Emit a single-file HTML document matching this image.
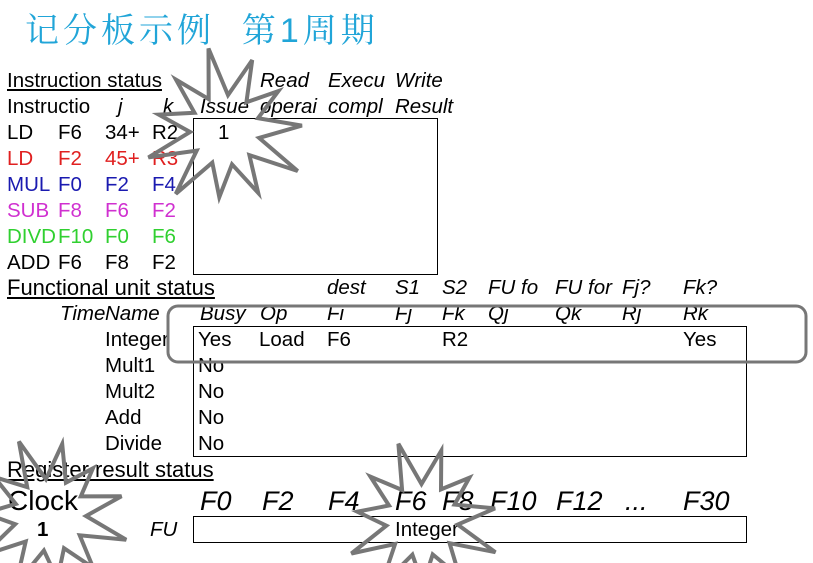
<!DOCTYPE html>
<html><head><meta charset="utf-8"><style>
body{margin:0;width:813px;height:563px;background:#fff;position:relative;overflow:hidden;font-family:"Liberation Sans",Arial,sans-serif;}
.t{position:absolute;font-size:20.5px;line-height:20px;white-space:nowrap;color:#000;}
.i{font-style:italic}
.b{position:absolute;border:1.5px solid #000;box-sizing:border-box}
.big{font-size:27px;line-height:27px}
.u{text-decoration:underline}
</style></head><body>
<div style="position:absolute;left:25px;top:3px;font-size:34px;color:#21a5d8;font-family:'Liberation Sans','Noto Serif CJK SC',serif;letter-spacing:4px;white-space:nowrap">记分板示例&nbsp;&nbsp;第1周期</div>

<div class="b" style="left:193px;top:118px;width:245px;height:157px"></div>
<div class="b" style="left:193px;top:326px;width:554px;height:131px"></div>
<div class="b" style="left:193px;top:516px;width:554px;height:27px"></div>

<div class="t u" style="left:7px;top:71px">Instruction status</div>
<div class="t i" style="left:260px;top:71px">Read</div>
<div class="t i" style="left:328px;top:71px">Execu</div>
<div class="t i" style="left:395px;top:71px">Write</div>

<div class="t" style="left:7px;top:97px">Instructio</div>
<div class="t i" style="left:118px;top:97px">j</div>
<div class="t i" style="left:163px;top:97px">k</div>
<div class="t i" style="left:200px;top:97px">Issue</div>
<div class="t i" style="left:260px;top:97px">operai</div>
<div class="t i" style="left:328px;top:97px">compl</div>
<div class="t i" style="left:395px;top:97px">Result</div>

<div class="t" style="left:7px;top:123px">LD</div><div class="t" style="left:58px;top:123px">F6</div><div class="t" style="left:105px;top:123px">34+</div><div class="t" style="left:152px;top:123px">R2</div><div class="t" style="left:218px;top:123px">1</div>
<div class="t" style="left:7px;top:149px;color:#e02020">LD</div><div class="t" style="left:58px;top:149px;color:#e02020">F2</div><div class="t" style="left:105px;top:149px;color:#e02020">45+</div><div class="t" style="left:152px;top:149px;color:#e02020">R3</div>
<div class="t" style="left:7px;top:175px;color:#1a1ab0">MUL</div><div class="t" style="left:58px;top:175px;color:#1a1ab0">F0</div><div class="t" style="left:105px;top:175px;color:#1a1ab0">F2</div><div class="t" style="left:152px;top:175px;color:#1a1ab0">F4</div>
<div class="t" style="left:7px;top:201px;color:#d030d0">SUB</div><div class="t" style="left:58px;top:201px;color:#d030d0;background:#fff">F8</div><div class="t" style="left:105px;top:201px;color:#d030d0">F6</div><div class="t" style="left:152px;top:201px;color:#d030d0">F2</div>
<div class="t" style="left:7px;top:227px;color:#30d030">DIVD</div><div class="t" style="left:58px;top:227px;color:#30d030;background:#fff">F10</div><div class="t" style="left:105px;top:227px;color:#30d030">F0</div><div class="t" style="left:152px;top:227px;color:#30d030">F6</div>
<div class="t" style="left:7px;top:253px">ADD</div><div class="t" style="left:58px;top:253px;background:#fff">F6</div><div class="t" style="left:105px;top:253px">F8</div><div class="t" style="left:152px;top:253px">F2</div>

<div class="t u" style="left:7px;top:278px;font-size:22px">Functional unit status</div>
<div class="t i" style="left:327px;top:278px">dest</div>
<div class="t i" style="left:395px;top:278px">S1</div>
<div class="t i" style="left:442px;top:278px">S2</div>
<div class="t i" style="left:488px;top:278px">FU fo</div>
<div class="t i" style="left:555px;top:278px">FU for</div>
<div class="t i" style="left:622px;top:278px">Fj?</div>
<div class="t i" style="left:683px;top:278px">Fk?</div>

<div class="t i" style="left:60px;top:304px">Time</div>
<div class="t i" style="left:105px;top:304px;background:#fff">Name</div>
<div class="t i" style="left:200px;top:304px">Busy</div>
<div class="t i" style="left:260px;top:304px">Op</div>
<div class="t i" style="left:327px;top:304px">Fi</div>
<div class="t i" style="left:395px;top:304px">Fj</div>
<div class="t i" style="left:442px;top:304px">Fk</div>
<div class="t i" style="left:488px;top:304px">Qj</div>
<div class="t i" style="left:555px;top:304px">Qk</div>
<div class="t i" style="left:622px;top:304px">Rj</div>
<div class="t i" style="left:683px;top:304px">Rk</div>

<div class="t" style="left:105px;top:330px">Integer</div><div class="t" style="left:198px;top:330px">Yes</div><div class="t" style="left:259px;top:330px">Load</div><div class="t" style="left:327px;top:330px">F6</div><div class="t" style="left:442px;top:330px">R2</div><div class="t" style="left:683px;top:330px">Yes</div>
<div class="t" style="left:105px;top:356px">Mult1</div><div class="t" style="left:198px;top:356px">No</div>
<div class="t" style="left:105px;top:382px">Mult2</div><div class="t" style="left:198px;top:382px">No</div>
<div class="t" style="left:105px;top:408px">Add</div><div class="t" style="left:198px;top:408px">No</div>
<div class="t" style="left:105px;top:434px">Divide</div><div class="t" style="left:198px;top:434px">No</div>

<div class="t u" style="left:7px;top:460px;font-size:22px">Register result status</div>
<div class="t big" style="left:8px;top:487px;font-size:28px">Clock</div>
<div class="t big i" style="left:200px;top:488px">F0</div>
<div class="t big i" style="left:262px;top:488px">F2</div>
<div class="t big i" style="left:328px;top:488px">F4</div>
<div class="t big i" style="left:395px;top:488px">F6</div>
<div class="t big i" style="left:442px;top:488px">F8</div>
<div class="t big i" style="left:490px;top:488px">F10</div>
<div class="t big i" style="left:556px;top:488px">F12</div>
<div class="t big i" style="left:625px;top:488px">...</div>
<div class="t big i" style="left:683px;top:488px">F30</div>
<div class="t" style="left:37px;top:520px;font-weight:bold">1</div>
<div class="t i" style="left:150px;top:520px">FU</div>
<div class="t" style="left:395px;top:520px">Integer</div>

<svg width="813" height="563" style="position:absolute;left:0;top:0">
<rect x="168" y="306" width="638" height="56" rx="10" ry="10" fill="none" stroke="#777" stroke-width="3"/>
<polygon id="s1" fill="none" stroke="#777" stroke-width="4" stroke-linejoin="miter"/>
<polygon id="s2" fill="none" stroke="#777" stroke-width="4"/>
<polygon id="s3" fill="none" stroke="#777" stroke-width="4"/>
</svg>
<script>
function star(id,cx,cy,n,ro,ri,rot,jit){var p=[];for(var k=0;k<2*n;k++){var a=rot+Math.PI*k/n;var r=k%2?ri:ro*(1+jit*Math.sin(k*2.3));p.push((cx+r*Math.cos(a)).toFixed(1)+","+(cy+r*Math.sin(a)).toFixed(1));}document.getElementById(id).setAttribute("points",p.join(" "));}
star("s1",225,130,11,75,35,-1.2,0.12);
star("s2",50,515,11,72,36,-1.4,0.12);
star("s3",422,520,11,72,36,-1.3,0.12);
</script>
</body></html>
